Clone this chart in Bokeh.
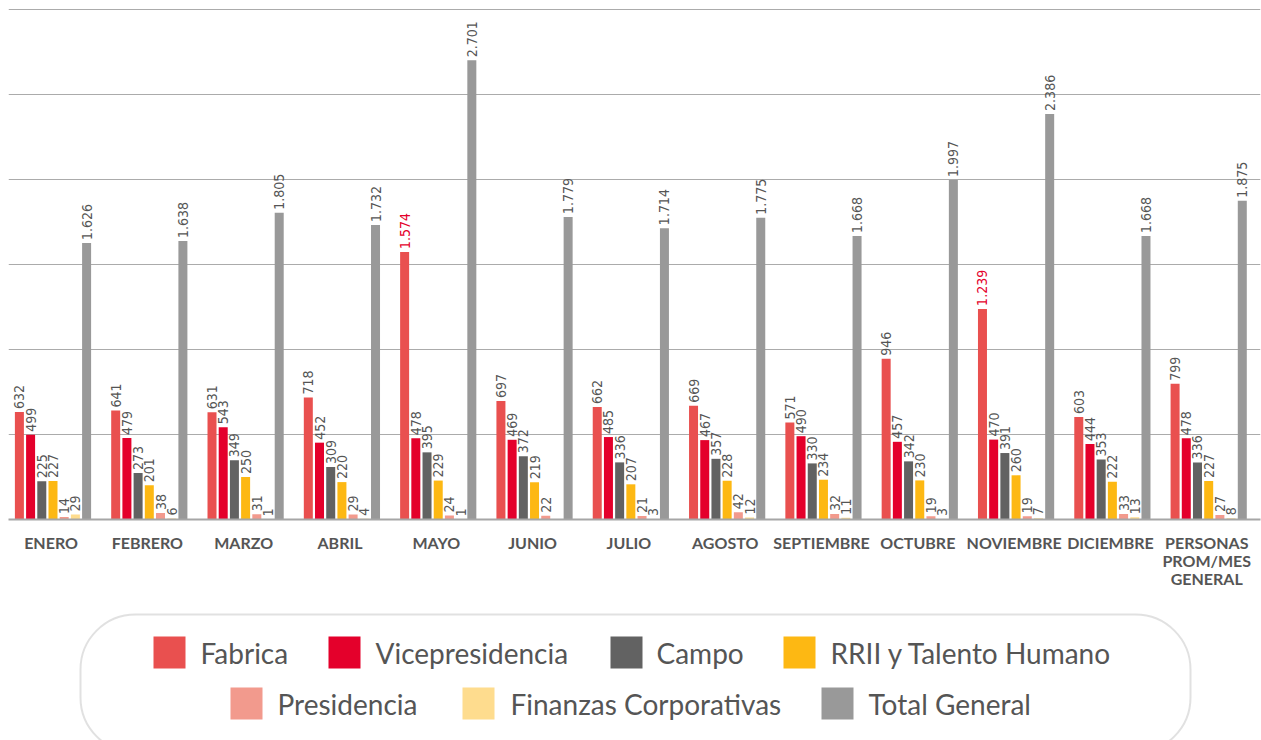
import math
import subprocess
from bokeh.plotting import figure
from bokeh.models import Range1d, FixedTicker, ColumnDataSource, BoxAnnotation
from bokeh.layouts import column
from bokeh.core.properties import value
from bokeh.embed import file_html
from bokeh.resources import INLINE

nan = float("nan")

months = ["ENERO", "FEBRERO", "MARZO", "ABRIL", "MAYO", "JUNIO", "JULIO",
          "AGOSTO", "SEPTIEMBRE", "OCTUBRE", "NOVIEMBRE", "DICIEMBRE",
          "PERSONAS\nPROM/MES\nGENERAL"]

series = ["Fabrica", "Vicepresidencia", "Campo", "RRII y Talento Humano",
          "Presidencia", "Finanzas Corporativas", "Total General"]

fabrica = [632, 641, 631, 718, 1574, 697, 662, 669, 571, 946, 1239, 603, 799]
vicepresidencia = [499, 479, 543, 452, 478, 469, 485, 467, 490, 457, 470, 444, 478]
campo = [225, 273, 349, 309, 395, 372, 336, 357, 330, 342, 391, 353, 336]
rrii = [227, 201, 250, 220, 229, 219, 207, 228, 234, 230, 260, 222, 227]
presidencia = [14, 38, 31, 29, 24, 22, 21, 42, 32, 19, 19, 33, 27]
finanzas = [29, 6, 1, 4, 1, nan, 3, 12, 11, 3, 7, 13, 8]
total = [1626, 1638, 1805, 1732, 2701, 1779, 1714, 1775, 1668, 1997, 2386, 1668, 1875]

values = [fabrica, vicepresidencia, campo, rrii, presidencia, finanzas, total]
colors = ["#E9504F", "#E4002B", "#626262", "#FDB813", "#F29A8D", "#FEDC8E", "#999999"]


def pick_narrow_font():
    try:
        out = subprocess.run(["fc-list", ":", "family"], capture_output=True,
                             text=True, timeout=10).stdout
    except Exception:
        out = ""
    for f in ["Liberation Sans Narrow", "DejaVu Sans Condensed", "Roboto Condensed"]:
        if f in out:
            return f, "14px"
    return "Roboto", "12.5px"


narrow_font, narrow_size = pick_narrow_font()

W = 1261
TOP = 8
FRAME_H = 511
MAIN_H = 600
LEG_H = 140
FRAME_L = 8
FRAME_R = 1260

# ---------------- main chart ----------------
p = figure(width=W, height=MAIN_H, output_backend="svg", toolbar_location=None,
           x_range=Range1d(-0.462, 12.538), y_range=Range1d(0, 3006),
           min_border_left=FRAME_L, min_border_right=W - FRAME_R, min_border_top=TOP,
           min_border_bottom=MAIN_H - FRAME_H - TOP)
p.outline_line_color = None
p.background_fill_color = "white"
p.border_fill_color = "white"
p.yaxis.visible = False
p.xgrid.grid_line_color = None
p.ygrid.ticker = FixedTicker(ticks=[0, 500, 1000, 1500, 2000, 2500, 3000])
p.ygrid.grid_line_color = "#ababab"
p.ygrid.grid_line_width = 1

step = 0.1163
bw = 0.0935
idx = list(range(len(months)))

lx, ly, lt, lc = [], [], [], []
px_per_unit = FRAME_H / 3006.0
for j, (name, vals, col) in enumerate(zip(series, values, colors)):
    off = (j - 3) * step
    src = ColumnDataSource(dict(x=[i + off for i in idx], top=vals))
    p.vbar(x="x", top="top", bottom=0, width=bw, source=src,
           fill_color=col, line_color=None)
    for i, v in zip(idx, vals):
        if isinstance(v, float) and math.isnan(v):
            continue
        lx.append(i + off)
        ly.append(v + 3.0 / px_per_unit)
        lt.append(f"{int(v):,}".replace(",", "."))
        lc.append("#E4002B" if (j == 0 and v >= 1000) else "#555555")

p.text(x=lx, y=ly, text=lt, angle=math.pi / 2, text_align="left",
       text_baseline="middle", text_color=lc, text_font_size=narrow_size,
       text_font=value(narrow_font))

p.xaxis.ticker = FixedTicker(ticks=[i - 0.02 for i in idx])
p.xaxis.major_label_overrides = {i - 0.02: m for i, m in zip(idx, months)}
p.xaxis.major_tick_line_color = None
p.xaxis.minor_tick_line_color = None
p.xaxis.axis_line_color = "#a6a6a6"
p.xaxis.axis_line_width = 2
p.xaxis.major_label_standoff = 7
p.xaxis.major_label_text_font = "Lato"
p.xaxis.major_label_text_font_style = "bold"
p.xaxis.major_label_text_font_size = "16px"
p.xaxis.major_label_text_line_height = 0.95
p.xaxis.major_label_text_color = "#555555"

# ---------------- legend ----------------
leg = figure(width=W, height=LEG_H, output_backend="svg", toolbar_location=None,
             x_range=Range1d(FRAME_L, FRAME_R), y_range=Range1d(MAIN_H + LEG_H, MAIN_H),
             min_border=0, min_border_left=FRAME_L, min_border_right=W - FRAME_R,
             min_border_top=0, min_border_bottom=0)
leg.outline_line_color = None
leg.axis.visible = False
leg.grid.visible = False
leg.background_fill_color = "white"
leg.border_fill_color = "white"

try:
    box = BoxAnnotation(left=80, right=1190, top=614, bottom=752,
                        fill_alpha=0, line_color="#9a9a9a", line_width=2,
                        border_radius=55)
except Exception:
    box = BoxAnnotation(left=80, right=1190, top=614, bottom=752,
                        fill_alpha=0, line_color="#9a9a9a", line_width=2)
leg.add_layout(box)

sq_x = [169, 344, 626, 799, 246, 478, 837]
sq_y = [652, 652, 652, 652, 703, 703, 703]
tx_x = [200, 375, 656, 830, 277, 510, 868]

leg.scatter(x=sq_x, y=sq_y, marker="square", size=32, fill_color=colors,
            line_color=None)
leg.text(x=tx_x, y=sq_y, text=series, text_align="left", text_baseline="middle",
         text_color="#555555", text_font_size="28px", text_font=value("Lato"))

layout = column(p, leg, spacing=0)
open("out.html", "w").write(file_html(layout, INLINE))
